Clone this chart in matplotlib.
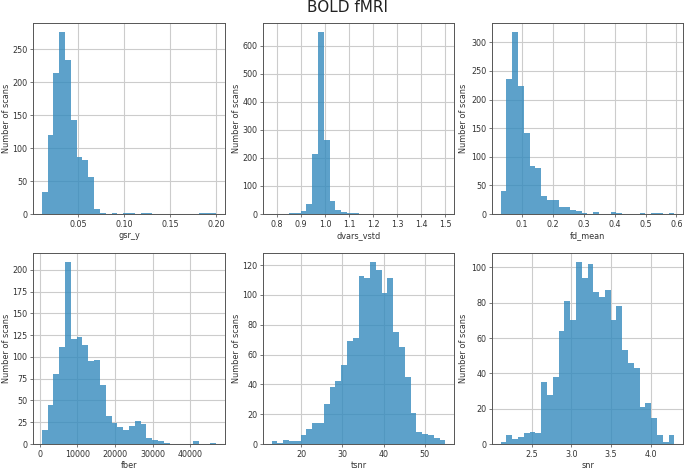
import numpy as np
import matplotlib
matplotlib.use("Agg")
import matplotlib.pyplot as plt
from matplotlib.ticker import MultipleLocator

title = "BOLD fMRI"
ylabel = "Number of scans"
bar_color = "#348ABD"

names = ["gsr_y", "dvars_vstd", "fd_mean", "fber", "tsnr", "snr"]
ranges = [(0.0102, 0.1998), (0.7775, 1.50), (0.031, 0.593),
          (530, 46850), (12.8, 55.0), (2.11, 4.30)]

gsr_y = [33, 120, 214, 276, 234, 143, 87, 82, 56, 7, 1, 0, 1, 0, 1, 2, 0, 1, 1, 0,
         0, 0, 0, 0, 0, 0, 0, 1, 1, 1]
dvars_vstd = [1, 0, 0, 2, 5, 11, 37, 213, 648, 263, 45, 15, 6, 5, 2, 0, 0, 0, 0, 0,
              0, 0, 0, 0, 0, 0, 0, 0, 0, 1]
fd_mean = [41, 236, 318, 223, 142, 84, 81, 31, 25, 25, 12, 12, 7, 6, 2, 0, 4, 0, 0, 3,
           1, 0, 0, 0, 1, 0, 1, 1, 0, 1]
fber = [16, 45, 81, 112, 209, 121, 123, 114, 95, 96, 68, 32, 24, 20, 16, 21, 27, 23, 7, 5,
        4, 1, 0, 0, 0, 0, 3, 0, 0, 1]
tsnr = [2, 1, 3, 2, 2, 6, 10, 14, 14, 27, 38, 42, 53, 69, 71, 113, 111, 122, 117, 101,
        111, 75, 65, 45, 21, 8, 7, 6, 4, 3]
snr = [1, 5, 3, 4, 6, 7, 6, 35, 28, 38, 64, 81, 70, 103, 94, 102, 86, 83, 87, 70,
       78, 53, 46, 43, 21, 23, 15, 5, 1, 5]
counts = [gsr_y, dvars_vstd, fd_mean, fber, tsnr, snr]

W, H = 685, 469
boxes = [(33, 23, 225, 214), (263, 23, 454, 214), (492, 23, 683, 214),
         (33, 253, 225, 444), (263, 253, 454, 444), (492, 253, 683, 444)]
ylabel_px = [11, 241, 468, 11, 241, 468]

plt.rcParams.update({"font.family": "DejaVu Sans", "font.size": 6})
fig = plt.figure(figsize=(W / 100, H / 100), dpi=100)

for name, rng, vals, (x0, y0, x1, y1), lx in zip(names, ranges, counts, boxes, ylabel_px):
    ax = fig.add_axes([x0 / W, 1 - y1 / H, (x1 - x0) / W, (y1 - y0) / H])
    edges = np.linspace(rng[0], rng[1], len(vals) + 1)
    ax.hist(edges[:-1], bins=edges, weights=vals, histtype="stepfilled",
            color=bar_color, alpha=0.8, zorder=3)
    ax.grid(True, color="#cccccc", linewidth=0.8, zorder=1)
    ax.set_axisbelow(True)
    ax.set_xlabel(name, fontsize=5.9, color="#333333", labelpad=1.5)
    ax.set_ylabel(ylabel, fontsize=5.9, color="#333333")
    ax.tick_params(labelsize=5.8, length=2, width=0.5, pad=2,
                   color="#444444", labelcolor="#333333")
    for s in ax.spines.values():
        s.set_linewidth(0.7)
        s.set_color("#555555")
    ax.yaxis.set_label_coords((lx - x0) / (x1 - x0), 0.5)
    if name == "dvars_vstd":
        ax.xaxis.set_major_locator(MultipleLocator(0.1))

fig.text(348 / W, 1 - 8 / H, title, ha="center", va="center", fontsize=11, color="#222222")
fig.savefig("out.png", dpi=100)
